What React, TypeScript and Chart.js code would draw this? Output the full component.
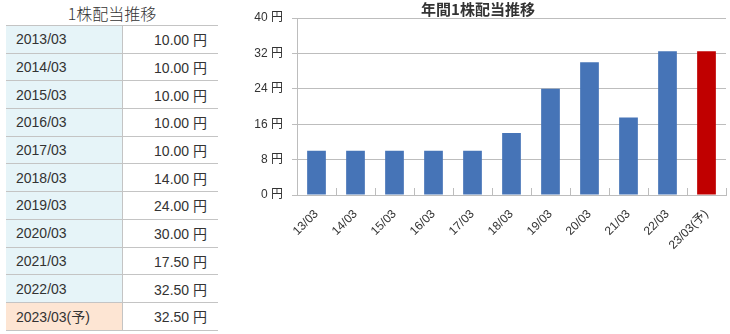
import React, { useEffect, useRef } from "react";
import { Chart, registerables } from "chart.js";

Chart.register(...registerables);

const chartTitle = "年間1株配当推移";
const tableTitle = "1株配当推移";
const categories = ["13/03", "14/03", "15/03", "16/03", "17/03", "18/03", "19/03", "20/03", "21/03", "22/03", "23/03(予)"];
const tableYears = ["2013/03", "2014/03", "2015/03", "2016/03", "2017/03", "2018/03", "2019/03", "2020/03", "2021/03", "2022/03", "2023/03(予)"];
const dividends = [10, 10, 10, 10, 10, 14, 24, 30, 17.5, 32.5, 32.5];
const forecastFlags = [false, false, false, false, false, false, false, false, false, false, true];
const yTicks = [0, 8, 16, 24, 32, 40];

const FONT = "'Liberation Sans', 'Noto Sans CJK JP', sans-serif";
const TITLE_FONT = "'Noto Sans CJK JP', sans-serif";
const BLUE = "#4674b7";
const RED = "#c00000";
const GRID = "#bdbdbd";

const innerTicks = {
  id: "innerTicks",
  afterDraw(chart: any) {
    const xs = chart.scales.x;
    const area = chart.chartArea;
    const ctx = chart.ctx;
    ctx.save();
    ctx.strokeStyle = GRID;
    ctx.lineWidth = 1;
    for (let i = 0; i <= categories.length; i++) {
      const x = Math.round(xs.getPixelForValue(i - 0.5)) + 0.5;
      ctx.beginPath();
      ctx.moveTo(x, area.bottom);
      ctx.lineTo(x, area.bottom - 7);
      ctx.stroke();
    }
    ctx.restore();
  },
};

export default function App() {
  const ref = useRef<HTMLCanvasElement>(null);
  useEffect(() => {
    const chart = new Chart(ref.current!, {
      type: "bar",
      data: {
        labels: categories,
        datasets: [
          {
            data: dividends,
            backgroundColor: forecastFlags.map((f) => (f ? RED : BLUE)),
            barPercentage: 0.48,
            categoryPercentage: 1,
          },
        ],
      },
      options: {
        animation: false,
        responsive: false,
        maintainAspectRatio: false,
        layout: { padding: { right: 4, left: 0, top: 0, bottom: 0 } },
        plugins: {
          legend: { display: false },
          tooltip: { enabled: false },
          title: {
            display: true,
            text: chartTitle,
            color: "#333",
            font: { family: TITLE_FONT, size: 15, weight: "bold", lineHeight: 1.2 },
            padding: { top: 0, bottom: 0 },
          },
        },
        scales: {
          x: {
            grid: { display: false },
            border: { display: true, color: GRID },
            ticks: {
              color: "#333",
              font: { family: FONT, size: 12 },
              maxRotation: 45,
              minRotation: 45,
              padding: 4,
              autoSkip: false,
            },
            afterFit(scale: any) {
              scale.height = 139;
            },
          },
          y: {
            min: 0,
            max: 40,
            afterBuildTicks(scale: any) {
              scale.ticks = yTicks.map((v) => ({ value: v }));
            },
            grid: { color: GRID, tickLength: 5 },
            border: { display: true, color: GRID },
            ticks: {
              color: "#333",
              font: { family: FONT, size: 12 },
              padding: 9,
              callback: (v: any) => `${v} 円`,
            },
            afterFit(scale: any) {
              scale.width = 67;
            },
          },
        },
      },
      plugins: [innerTicks],
    });
    return () => chart.destroy();
  }, []);

  const cellBorder = "1px solid #c4c4c4";
  return (
    <div style={{ position: "fixed", left: 0, top: 0, width: 730, height: 334, background: "#fff", fontFamily: FONT, color: "#333" }}>
      <div style={{ position: "absolute", left: 6, top: 1, width: 212, height: 24, lineHeight: "24px", textAlign: "center", fontSize: 16, fontFamily: TITLE_FONT, fontWeight: 300 }}>
        {tableTitle}
      </div>
      <table
        style={{
          position: "absolute",
          left: 6,
          top: 25,
          width: 212,
          borderCollapse: "collapse",
          tableLayout: "fixed",
          fontSize: 14,
          borderTop: cellBorder,
        }}
      >
        <colgroup>
          <col style={{ width: 116 }} />
          <col style={{ width: 96 }} />
        </colgroup>
        <tbody>
          {tableYears.map((y, i) => (
            <tr key={y} style={{ height: 27.7 }}>
              <td
                style={{
                  background: forecastFlags[i] ? "#fde5d3" : "#e6f4f8",
                  borderBottom: cellBorder,
                  borderRight: cellBorder,
                  padding: "0 0 0 10px",
                  whiteSpace: "nowrap",
                }}
              >
                {y}
              </td>
              <td style={{ borderBottom: cellBorder, textAlign: "right", padding: "0 11px 0 0", whiteSpace: "nowrap" }}>
                {dividends[i].toFixed(2)} 円
              </td>
            </tr>
          ))}
        </tbody>
      </table>
      <canvas ref={ref} width={500} height={334} style={{ position: "absolute", left: 230, top: 0, width: 500, height: 334 }} />
    </div>
  );
}
